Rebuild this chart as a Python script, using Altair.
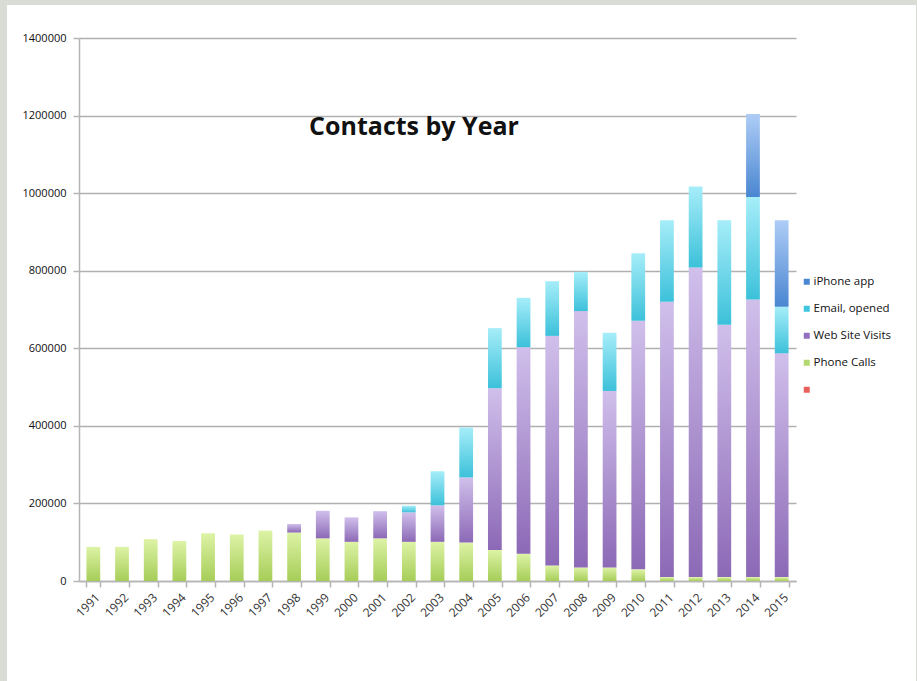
import altair as alt
import pandas as pd

years = [str(y) for y in range(1991, 2016)]
phone_calls = [88000, 88000, 108000, 103000, 123000, 120000, 130000, 125000, 110000, 101000,
               110000, 101000, 101000, 99000, 80000, 70000, 40000, 35000, 35000, 30000,
               10000, 10000, 10000, 10000, 10000]
web_visits = [0, 0, 0, 0, 0, 0, 0, 22000, 71000, 63000,
              70000, 76000, 94000, 168000, 417000, 533000, 592000, 661000, 455000, 641000,
              710000, 798000, 651000, 716000, 577000]
email_opened = [0, 0, 0, 0, 0, 0, 0, 0, 0, 0,
                0, 17000, 88000, 129000, 155000, 127000, 141000, 101000, 150000, 174000,
                210000, 209000, 269000, 264000, 120000]
iphone_app = [0] * 23 + [214000, 223000]

series_names = ["iPhone app", "Email, opened", "Web Site Visits", "Phone Calls", " "]
legend_colors = ["#4a86d1", "#3fc6df", "#9170c0", "#b3d872", "#e8605c"]
title_text = "Contacts by Year"
y_ticks = [0, 200000, 400000, 600000, 800000, 1000000, 1200000, 1400000]

stack_order = [("Phone Calls", phone_calls), ("Web Site Visits", web_visits),
               ("Email, opened", email_opened), ("iPhone app", iphone_app)]
rows = []
for i, yr in enumerate(years):
    base = 0
    for name, vals in stack_order:
        v = vals[i]
        if v > 0:
            rows.append({"year": yr, "series": name, "y0": base, "y1": base + v})
        base += v
df = pd.DataFrame(rows)


def grad(top, bottom):
    return alt.Gradient(
        gradient="linear",
        stops=[alt.GradientStop(color=top, offset=0), alt.GradientStop(color=bottom, offset=1)],
        x1=0, x2=0, y1=0, y2=1,
    )


gradients = {
    "Phone Calls": grad("#ddf3a6", "#a6cd58"),
    "Web Site Visits": grad("#d0bfeb", "#8c69b6"),
    "Email, opened": grad("#a6edf9", "#3cc1da"),
    "iPhone app": grad("#aecdf6", "#4a86d1"),
}

x_enc = alt.X(
    "year:N",
    sort=years,
    scale=alt.Scale(domain=years, paddingInner=0.52, paddingOuter=0.26),
    axis=alt.Axis(title=None, labelAngle=315, labelAlign="right", labelBaseline="middle",
                  tickBand="extent", tickSize=6, labelPadding=8, labelOffset=4,
                  labelFont="Open Sans", labelFontSize=12, labelColor="#333333",
                  grid=False, domainColor="#b5b5b5", tickColor="#b5b5b5",
                  domainWidth=1.5, tickWidth=1.5),
)
y_enc = alt.Y(
    "y1:Q",
    scale=alt.Scale(domain=[0, 1400000], nice=False),
    axis=alt.Axis(title=None, values=y_ticks, format="d", tickSize=6, labelPadding=7,
                  labelFont="Open Sans", labelFontSize=11, labelColor="#111111",
                  gridColor="#b0b0b0", gridWidth=1.5, domainColor="#b5b5b5",
                  tickColor="#b5b5b5", domainWidth=1.5, tickWidth=1.5),
)

layers = []
for name, _ in stack_order:
    sub = df[df["series"] == name]
    layers.append(
        alt.Chart(sub).mark_bar(color=gradients[name]).encode(x=x_enc, y=y_enc, y2="y0:Q")
    )

legend_df = pd.DataFrame({"series": series_names})
legend_layer = alt.Chart(legend_df).mark_square(clip=True, opacity=1, size=36).encode(
    color=alt.Color(
        "series:N",
        scale=alt.Scale(domain=series_names, range=legend_colors),
        legend=alt.Legend(orient="none", legendX=722, legendY=238, title=None,
                          symbolSize=36, symbolType="square", symbolStrokeWidth=0,
                          labelFont="Open Sans", labelFontSize=11.5, labelColor="#111111",
                          rowPadding=14, labelOffset=1),
    ),
    x=alt.value(-300),
    y=alt.value(-300),
)

title_df = pd.DataFrame({"t": [title_text]})
title_layer = alt.Chart(title_df).mark_text(
    font="Open Sans", fontSize=25, fontWeight="bold", color="#111111",
    align="center", baseline="middle",
).encode(text="t:N", x=alt.value(335), y=alt.value(89))

border = "#d9dbd5"
strip_top = alt.Chart(title_df).mark_rect(color=border).encode(
    x=alt.value(-79), x2=alt.value(838), y=alt.value(-38), y2=alt.value(-33))
strip_left = alt.Chart(title_df).mark_rect(color=border).encode(
    x=alt.value(-79), x2=alt.value(-72), y=alt.value(-38), y2=alt.value(643))
strip_right = alt.Chart(title_df).mark_rect(color=border).encode(
    x=alt.value(837), x2=alt.value(838), y=alt.value(-38), y2=alt.value(643))

chart = alt.layer(
    *layers, title_layer, legend_layer, strip_top, strip_left, strip_right
).properties(
    width=717, height=543,
    padding={"left": 79, "top": 38, "right": 121, "bottom": 100},
    autosize=alt.AutoSizeParams(type="none"),
    background="white",
).configure_view(stroke=None)

chart.save("out.html", embed_options={"renderer": "svg", "actions": False})
